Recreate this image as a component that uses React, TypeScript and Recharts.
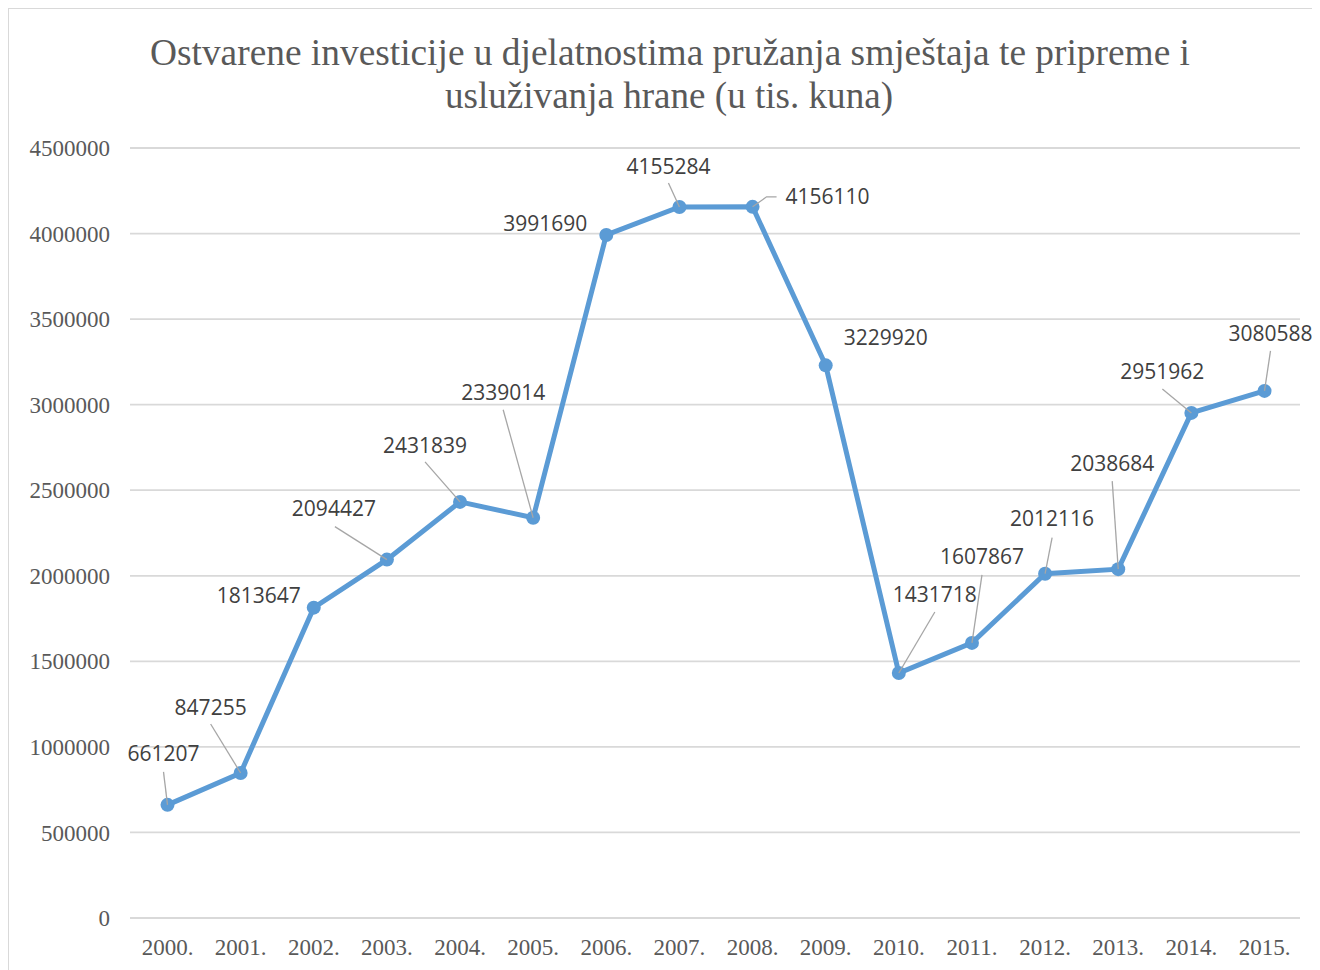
import { LineChart, Line, XAxis, YAxis, CartesianGrid } from "recharts";

const YEARS = [
  "2000.", "2001.", "2002.", "2003.", "2004.", "2005.", "2006.", "2007.",
  "2008.", "2009.", "2010.", "2011.", "2012.", "2013.", "2014.", "2015.",
];

const INVESTMENTS = [
  661207, 847255, 1813647, 2094427, 2431839, 2339014, 3991690, 4155284,
  4156110, 3229920, 1431718, 1607867, 2012116, 2038684, 2951962, 3080588,
];

const Y_TICKS = [0, 500000, 1000000, 1500000, 2000000, 2500000, 3000000, 3500000, 4000000, 4500000];

const TITLE_LINES = [
  "Ostvarene investicije u djelatnostima pružanja smještaja te pripreme i",
  "usluživanja hrane (u tis. kuna)",
];

// label placement relative to the point (label centre), like Excel's dragged labels
const LABEL_OFFSETS: [number, number][] = [
  [-4, -51], [-30, -66], [-55, -12], [-53, -51], [-35, -56], [-30, -125], [-61, -12], [-11, -41],
  [75, -10], [60, -28], [36, -79], [10, -86], [7, -55], [-6, -106], [-29, -41], [6, -57],
];

// leader line start relative to the point, null = no leader
const LEADERS: ([number, number][] | null)[] = [
  [[-4, -33]], [[-30, -49]], null, [[-52, -33]], [[-35, -40]], [[-30, -108]], null, [[-11, -24]],
  [[24, -10], [14, -10]], null, [[36, -61]], [[10, -68]], [[7, -36]], [[-6, -88]], [[-29, -24]], [[6, -40]],
];

const data = YEARS.map((year, i) => ({ year, value: INVESTMENTS[i] }));

const LINE_COLOR = "#5b9bd5";
const GRID_COLOR = "#d9d9d9";
const AXIS_TEXT = "#595959";
const SERIF = "'Liberation Serif', 'Times New Roman', serif";
const SANS = "'Open Sans', 'Liberation Sans', sans-serif";

const PointWithLabel = (props: any) => {
  const { cx, cy, index, value } = props;
  if (cx == null || cy == null) return <g key={`dot-${index}`} />;
  const [dx, dy] = LABEL_OFFSETS[index] || [0, -20];
  const leader = LEADERS[index];
  const pts = leader ? [...leader.map(([lx, ly]) => [cx + lx, cy + ly]), [cx, cy]] : null;
  const v = Array.isArray(value) ? value[1] : value;
  return (
    <g key={`dot-${index}`}>
      <circle cx={cx} cy={cy} r={7} fill={LINE_COLOR} />
      {pts && (
        <polyline
          points={pts.map((p) => p.join(",")).join(" ")}
          fill="none"
          stroke="#a6a6a6"
          strokeWidth={1.3}
        />
      )}
      <text
        x={cx + dx}
        y={cy + dy}
        dy="0.36em"
        textAnchor="middle"
        fontFamily={SANS}
        fontSize={21}
        fill="#404040"
      >
        {String(v)}
      </text>
    </g>
  );
};

export default function App() {
  return (
    <div
      style={{
        position: "relative",
        width: 1312,
        height: 962,
        boxSizing: "border-box",
        borderLeft: `1.5px solid ${GRID_COLOR}`,
        borderTop: `1.5px solid ${GRID_COLOR}`,
        background: "#fff",
      }}
    >
      <svg
        width={1311}
        height={130}
        style={{ position: "absolute", left: 0, top: 0, pointerEvents: "none" }}
      >
        <text
          x={661}
          y={56}
          textAnchor="middle"
          fontFamily={SERIF}
          fontSize={38}
          fill={AXIS_TEXT}
          textLength={1040}
          lengthAdjust="spacingAndGlyphs"
        >
          {TITLE_LINES[0]}
        </text>
        <text
          x={660}
          y={99}
          textAnchor="middle"
          fontFamily={SERIF}
          fontSize={38}
          fill={AXIS_TEXT}
          textLength={448}
          lengthAdjust="spacingAndGlyphs"
        >
          {TITLE_LINES[1]}
        </text>
      </svg>
      <LineChart
        width={1311}
        height={961}
        data={data}
        margin={{ top: 139, right: 20, left: 11, bottom: 22 }}
      >
        <CartesianGrid vertical={false} stroke={GRID_COLOR} strokeWidth={1.8} />
        <XAxis
          dataKey="year"
          axisLine={false}
          tickLine={false}
          tickSize={0}
          tickMargin={21}
          height={30}
          interval={0}
          padding={{ left: 37.5, right: 35.5 }}
          tick={{ fontFamily: SERIF, fontSize: 23, fill: AXIS_TEXT }}
        />
        <YAxis
          domain={[0, 4500000]}
          ticks={Y_TICKS}
          axisLine={false}
          tickLine={false}
          tickSize={0}
          tickMargin={20}
          width={110}
          interval={0}
          tick={{ fontFamily: SERIF, fontSize: 23, fill: AXIS_TEXT }}
        />
        <Line
          type="linear"
          dataKey="value"
          stroke={LINE_COLOR}
          strokeWidth={5}
          dot={PointWithLabel}
          activeDot={false}
          isAnimationActive={false}
        />
      </LineChart>
    </div>
  );
}
